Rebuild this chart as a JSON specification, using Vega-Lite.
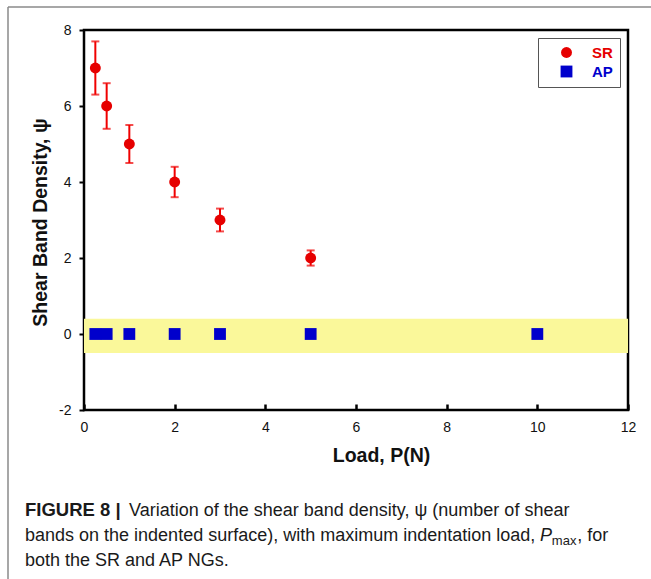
{
  "$schema": "https://vega.github.io/schema/vega-lite/v6.json",
  "width": 544,
  "height": 380,
  "autosize": {"type": "none"},
  "padding": {"left": 84, "top": 30, "right": 23, "bottom": 169},
  "background": "white",
  "config": {
    "view": {"stroke": "black", "strokeWidth": 2.5},
    "font": "Liberation Sans"
  },
  "datasets": {
    "pts": [
      {"x": 0.25, "y": 7, "lo": 6.3, "hi": 7.7, "series": "SR"},
      {"x": 0.5, "y": 6, "lo": 5.4, "hi": 6.6, "series": "SR"},
      {"x": 1, "y": 5, "lo": 4.5, "hi": 5.5, "series": "SR"},
      {"x": 2, "y": 4, "lo": 3.6, "hi": 4.4, "series": "SR"},
      {"x": 3, "y": 3, "lo": 2.7, "hi": 3.3, "series": "SR"},
      {"x": 5, "y": 2, "lo": 1.8, "hi": 2.2, "series": "SR"},
      {"x": 0.25, "y": 0, "series": "AP"},
      {"x": 0.5, "y": 0, "series": "AP"},
      {"x": 1, "y": 0, "series": "AP"},
      {"x": 2, "y": 0, "series": "AP"},
      {"x": 3, "y": 0, "series": "AP"},
      {"x": 5, "y": 0, "series": "AP"},
      {"x": 10, "y": 0, "series": "AP"}
    ],
    "band": [{"x": 0, "x2": 12, "y": 0.4, "y2": -0.5}],
    "frame": [
      {"x": -1.6765, "x2": -1.6765, "y": 8.605, "y2": -6.447},
      {"x": -1.6765, "x2": 12.507, "y": 8.605, "y2": 8.605}
    ],
    "cap": [
      {"t": "FIGURE 8 |", "x": -1.3015, "y": -4.789, "s": "b"},
      {"t": "Variation of the shear band density, ψ (number of shear", "x": 0.9926, "y": -4.789, "s": "n"},
      {"t": "bands on the indented surface), with maximum indentation load,", "x": -1.3015, "y": -5.447, "s": "n"},
      {"t": "P", "x": 10.059, "y": -5.447, "s": "i"},
      {"t": "max", "x": 10.32, "y": -5.553, "s": "sub"},
      {"t": ", for", "x": 10.88, "y": -5.447, "s": "n"},
      {"t": "both the SR and AP NGs.", "x": -1.3015, "y": -6.105, "s": "n"}
    ]
  },
  "layer": [
    {
      "data": {"name": "band"},
      "mark": {"type": "rect", "color": "#FAF89A"},
      "encoding": {
        "x": {"field": "x", "type": "quantitative", "title": "Load, P(N)", "scale": {"domain": [0, 12], "nice": false}},
        "x2": {"field": "x2"},
        "y": {"field": "y", "type": "quantitative", "title": "Shear Band Density, ψ", "scale": {"domain": [-2, 8], "nice": false}},
        "y2": {"field": "y2"}
      }
    },
    {
      "data": {"name": "pts"},
      "transform": [{"filter": "datum.series === 'SR'"}],
      "mark": {"type": "errorbar", "color": "#F00000", "thickness": 2, "ticks": {"size": 8, "thickness": 2, "color": "#F00000"}},
      "encoding": {
        "x": {"field": "x", "type": "quantitative", "title": "Load, P(N)"},
        "y": {"field": "lo", "type": "quantitative", "title": "Shear Band Density, ψ"},
        "y2": {"field": "hi"}
      }
    },
    {
      "data": {"name": "pts"},
      "mark": {"type": "point", "filled": true, "opacity": 1},
      "encoding": {
        "x": {
          "field": "x", "type": "quantitative",
          "scale": {"domain": [0, 12], "nice": false},
          "title": "Load, P(N)",
          "axis": {
            "values": [0, 2, 4, 6, 8, 10, 12],
            "titleFontSize": 19.5, "titleFontWeight": "bold", "titleColor": "#111",
            "titleX": 297, "titleY": 51, "titleBaseline": "alphabetic",
            "labelFontSize": 14, "labelColor": "#111", "labelPadding": 16,
            "tickSize": -6, "tickWidth": 2.5, "tickColor": "black",
            "domain": false, "grid": false, "labelFlush": false
          }
        },
        "y": {
          "field": "y", "type": "quantitative",
          "scale": {"domain": [-2, 8], "nice": false},
          "title": "Shear Band Density, ψ",
          "axis": {
            "values": [-2, 0, 2, 4, 6, 8],
            "labelExpr": "replace(datum.label, '−', '-')",
            "titleFontSize": 19.5, "titleFontWeight": "bold", "titleColor": "#111",
            "titleX": -44, "titleY": 192, "titleBaseline": "middle", "titleAngle": -90, "titleAlign": "center",
            "labelFontSize": 14, "labelColor": "#111", "labelPadding": 8,
            "tickSize": 5, "tickWidth": 2, "tickColor": "black",
            "domain": false, "grid": false, "labelFlush": false
          }
        },
        "color": {
          "field": "series", "type": "nominal",
          "scale": {"domain": ["SR", "AP"], "range": ["#E60000", "#0000CC"]},
          "legend": {
            "title": null, "orient": "top-right", "offset": 8,
            "labelFontSize": 15, "labelFontWeight": "bold",
            "labelColor": {"expr": "datum.label === 'SR' ? '#E60000' : '#0000CC'"},
            "strokeColor": "#555", "padding": 7, "symbolOffset": 14, "labelOffset": 18,
            "rowPadding": 3, "fillColor": "white"
          }
        },
        "shape": {
          "field": "series", "type": "nominal",
          "scale": {"domain": ["SR", "AP"], "range": ["circle", "square"]}
        },
        "size": {
          "field": "series", "type": "nominal",
          "scale": {"domain": ["SR", "AP"], "range": [120, 140]}
        }
      }
    },
    {
      "data": {"name": "frame"},
      "mark": {"type": "rule", "color": "#8a8a8a", "strokeWidth": 1.5},
      "encoding": {
        "x": {"field": "x", "type": "quantitative"},
        "x2": {"field": "x2"},
        "y": {"field": "y", "type": "quantitative"},
        "y2": {"field": "y2"}
      }
    },
    {
      "data": {"name": "cap"},
      "transform": [{"filter": "datum.s === 'b'"}],
      "mark": {"type": "text", "align": "left", "baseline": "alphabetic", "font": "Liberation Sans", "fontSize": 18.5, "fontWeight": "bold", "color": "#1a1a1a"},
      "encoding": {
        "x": {"field": "x", "type": "quantitative"},
        "y": {"field": "y", "type": "quantitative"},
        "text": {"field": "t"}
      }
    },
    {
      "data": {"name": "cap"},
      "transform": [{"filter": "datum.s === 'n'"}],
      "mark": {"type": "text", "align": "left", "baseline": "alphabetic", "font": "Liberation Sans", "fontSize": 18, "color": "#1a1a1a"},
      "encoding": {
        "x": {"field": "x", "type": "quantitative"},
        "y": {"field": "y", "type": "quantitative"},
        "text": {"field": "t"}
      }
    },
    {
      "data": {"name": "cap"},
      "transform": [{"filter": "datum.s === 'i'"}],
      "mark": {"type": "text", "align": "left", "baseline": "alphabetic", "font": "Liberation Sans", "fontSize": 18, "fontStyle": "italic", "color": "#1a1a1a"},
      "encoding": {
        "x": {"field": "x", "type": "quantitative"},
        "y": {"field": "y", "type": "quantitative"},
        "text": {"field": "t"}
      }
    },
    {
      "data": {"name": "cap"},
      "transform": [{"filter": "datum.s === 'sub'"}],
      "mark": {"type": "text", "align": "left", "baseline": "alphabetic", "font": "Liberation Sans", "fontSize": 13, "color": "#1a1a1a"},
      "encoding": {
        "x": {"field": "x", "type": "quantitative"},
        "y": {"field": "y", "type": "quantitative"},
        "text": {"field": "t"}
      }
    }
  ]
}
